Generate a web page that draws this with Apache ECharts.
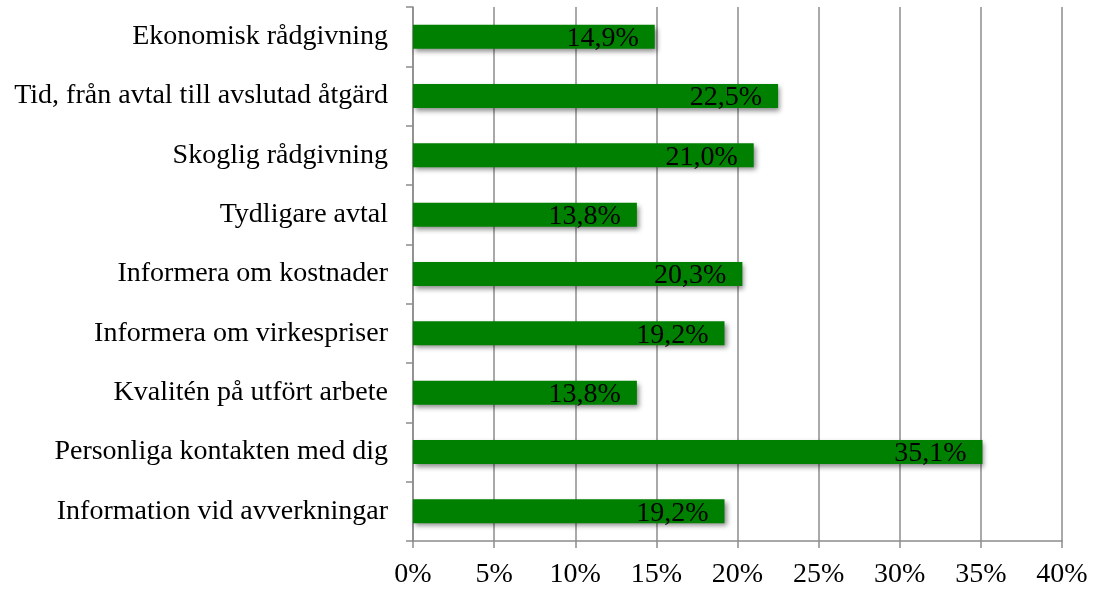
<!DOCTYPE html>
<html>
<head>
<meta charset="utf-8">
<script src="https://cdn.jsdelivr.net/npm/echarts@6/dist/echarts.min.js"></script>
<style>
html, body { margin: 0; padding: 0; background: #fff; }
#chart { width: 1097px; height: 590px; }
</style>
</head>
<body>
<div id="chart"></div>
<script>
// Categories listed bottom-to-top (ECharts category axis runs upward)
const categories = [
  'Information vid avverkningar',
  'Personliga kontakten med dig',
  'Kvalitén på utfört arbete',
  'Informera om virkespriser',
  'Informera om kostnader',
  'Tydligare avtal',
  'Skoglig rådgivning',
  'Tid, från avtal till avslutad åtgärd',
  'Ekonomisk rådgivning'
];
// Share of respondents, percent
const shares = [19.2, 35.1, 13.8, 19.2, 20.3, 13.8, 21.0, 22.5, 14.9];

const FONT = '"Liberation Serif", "DejaVu Serif", serif';
const FONT_SIZE = 28;
const GRID_COLOR = '#8c8c8c';

const chart = echarts.init(document.getElementById('chart'), null, { renderer: 'canvas' });
chart.setOption({
  animation: false,
  backgroundColor: '#ffffff',
  grid: { left: 413, right: 35, top: 7, bottom: 49, containLabel: false },
  xAxis: {
    type: 'value',
    min: 0,
    max: 40,
    interval: 5,
    axisLine: { show: true, lineStyle: { color: GRID_COLOR, width: 1.5 } },
    axisTick: { show: true, length: 7, lineStyle: { color: GRID_COLOR, width: 1.5 } },
    splitLine: { show: true, lineStyle: { color: GRID_COLOR, width: 1.5 } },
    axisLabel: {
      margin: 20,
      color: '#000',
      fontFamily: FONT,
      fontSize: FONT_SIZE,
      formatter: v => v + '%'
    }
  },
  yAxis: {
    type: 'category',
    data: categories,
    axisLine: { show: true, lineStyle: { color: GRID_COLOR, width: 1.5 } },
    axisTick: { show: true, length: 7, lineStyle: { color: GRID_COLOR, width: 1.5 } },
    splitLine: { show: false },
    axisLabel: {
      margin: 25,
      color: '#000',
      fontFamily: FONT,
      fontSize: FONT_SIZE,
      padding: [4, 0, 0, 0]
    }
  },
  series: [{
    type: 'bar',
    data: shares,
    barWidth: 24,
    itemStyle: {
      color: '#008000',
      shadowColor: 'rgba(0,0,0,0.45)',
      shadowBlur: 5,
      shadowOffsetX: 2,
      shadowOffsetY: 3
    },
    label: {
      show: true,
      position: 'insideRight',
      distance: 16,
      offset: [0, 2],
      color: '#000',
      fontFamily: FONT,
      fontSize: FONT_SIZE,
      formatter: p => p.value.toFixed(1).replace('.', ',') + '%'
    }
  }]
});
</script>
</body>
</html>
